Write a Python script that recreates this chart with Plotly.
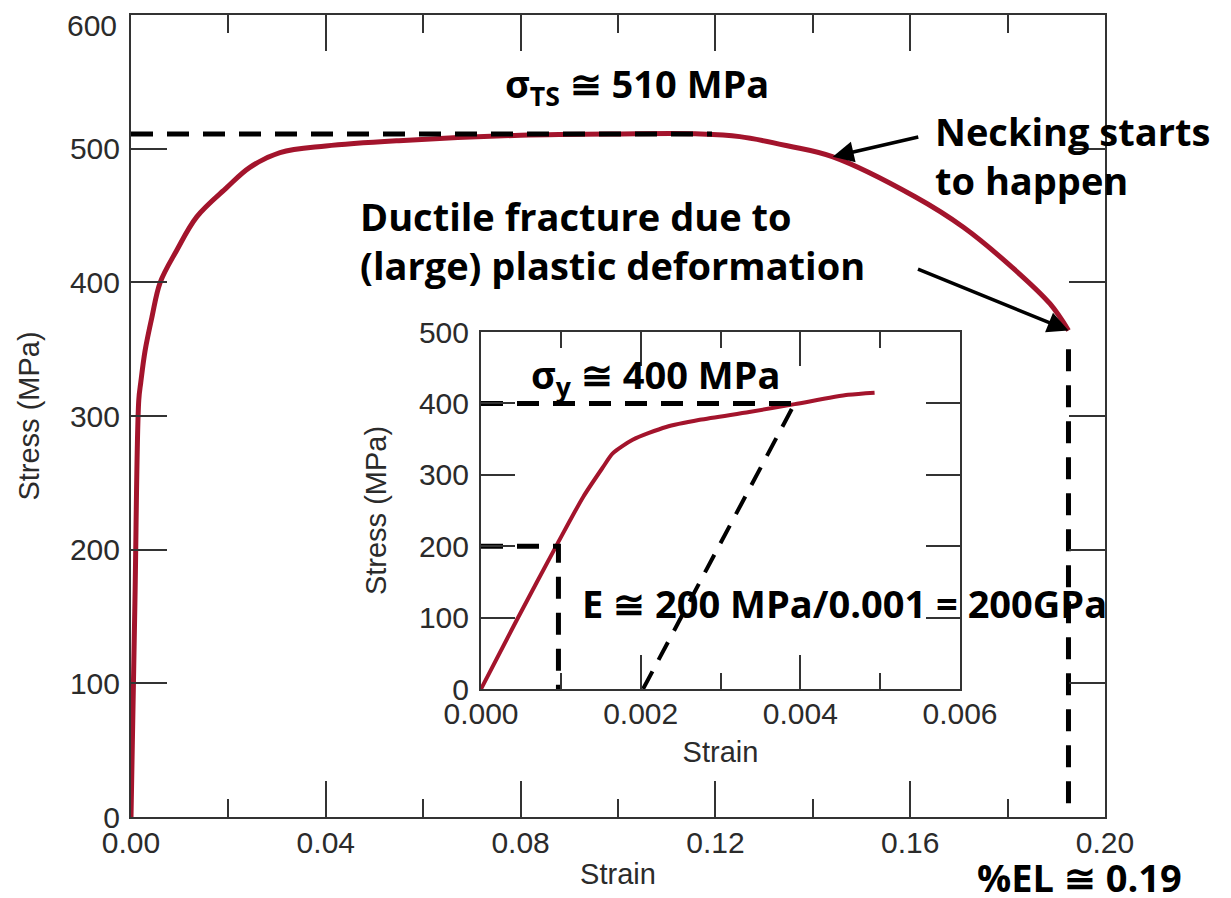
import plotly.graph_objects as go

# ---------------- data ----------------
main_strain = [0.0, 0.0008, 0.0016, 0.002, 0.0029, 0.0043, 0.006, 0.0094, 0.0135, 0.0197,
               0.0244, 0.0306, 0.04, 0.055, 0.08, 0.10, 0.117, 0.125, 0.135, 0.144,
               0.161, 0.171, 0.181, 0.1887, 0.1925]
main_stress = [0, 160, 312, 325, 349, 374, 400, 424, 449, 471,
               486, 497, 502, 506, 510, 511, 511, 509, 502, 494,
               464, 441, 411, 384, 364]

inset_strain = [0.0, 0.00045, 0.00096, 0.00128, 0.00153, 0.00165, 0.0019, 0.00232, 0.00274,
                0.00336, 0.00393, 0.0046, 0.00493]
inset_stress = [0, 97, 204, 269, 311, 330, 349, 367, 377, 388, 399, 412, 415]

tensile_strength = 511
fracture_strain = 0.1925
fracture_dash_top = 350
yield_strength = 400
e_stress = 200
e_strain = 0.00097
offset_start = 0.00203
offset_end = 0.00393

x_main_ticks = [0.00, 0.04, 0.08, 0.12, 0.16, 0.20]
y_main_ticks = [0, 100, 200, 300, 400, 500, 600]
y_main_labels = ["0", "100", "200", "300", "400", "500", ""]  # top label drawn separately
x_inset_ticks = [0.000, 0.002, 0.004, 0.006]
y_inset_ticks = [0, 100, 200, 300, 400, 500]

RED = "#a3142c"
AX = "#333333"
TICKFONT = dict(family="Liberation Sans, Arial, sans-serif", size=30, color="#2b2b2b")
TITLEFONT = dict(family="Liberation Sans, Arial, sans-serif", size=29, color="#2b2b2b")
ANNFONT = dict(family="Open Sans, sans-serif", size=38, color="black", weight="bold")

W, H = 1231, 898
OFF = 8  # page body margin offset


def xdom(a, b):
    return [(a - OFF) / W, (b - OFF) / W]


def ydom(bottom, top):
    return [(H - (bottom - OFF)) / H, (H - (top - OFF)) / H]


fig = go.Figure()

# main curve
fig.add_trace(go.Scatter(x=main_strain, y=main_stress, mode="lines",
                         line=dict(color=RED, width=5, shape="spline", smoothing=1.0),
                         xaxis="x", yaxis="y", showlegend=False, hoverinfo="skip"))
# tensile strength dashed
fig.add_trace(go.Scatter(x=[0, 0.1193], y=[tensile_strength, tensile_strength], mode="lines",
                         line=dict(color="black", width=5, dash="22px,14px"), xaxis="x", yaxis="y",
                         showlegend=False, hoverinfo="skip"))
# fracture vertical dashed
fig.add_trace(go.Scatter(x=[fracture_strain, fracture_strain], y=[fracture_dash_top, 0], mode="lines",
                         line=dict(color="black", width=5, dash="22px,14px"), xaxis="x", yaxis="y",
                         showlegend=False, hoverinfo="skip"))

# inset curve
fig.add_trace(go.Scatter(x=inset_strain, y=inset_stress, mode="lines",
                         line=dict(color=RED, width=4, shape="spline", smoothing=0.7),
                         xaxis="x2", yaxis="y2", showlegend=False, hoverinfo="skip"))
# yield dashed
fig.add_trace(go.Scatter(x=[0, offset_end], y=[yield_strength, yield_strength], mode="lines",
                         line=dict(color="black", width=5, dash="22px,14px"), xaxis="x2", yaxis="y2",
                         showlegend=False, hoverinfo="skip"))
# E construction
fig.add_trace(go.Scatter(x=[0, e_strain, e_strain], y=[e_stress, e_stress, 0], mode="lines",
                         line=dict(color="black", width=5, dash="22px,14px"), xaxis="x2", yaxis="y2",
                         showlegend=False, hoverinfo="skip"))
# offset line
fig.add_trace(go.Scatter(x=[offset_start, offset_end], y=[0, yield_strength], mode="lines",
                         line=dict(color="black", width=4, dash="20px,13px"), xaxis="x2", yaxis="y2",
                         showlegend=False, hoverinfo="skip"))

common = dict(showline=True, linecolor=AX, linewidth=2, mirror="allticks", showgrid=False,
              zeroline=False, tickfont=TICKFONT, automargin=False, tickcolor=AX, tickwidth=1.5,
              ticks="inside", ticklabeloverflow="allow")

main_x = dict(range=[0, 0.2], domain=xdom(131, 1105), tickvals=x_main_ticks, tickformat=".2f",
              ticklen=36,
              minor=dict(dtick=0.02, ticks="inside", ticklen=18, tickwidth=1.5, tickcolor=AX),
              ticklabelstandoff=-2,
              title=dict(text="Strain", font=TITLEFONT, standoff=6), anchor="y", **common)
main_y = dict(range=[0, 600], domain=ydom(817, 15), tickvals=y_main_ticks, ticktext=y_main_labels,
              ticklen=36, ticklabelstandoff=3,
              title=dict(text="Stress (MPa)", font=TITLEFONT, standoff=22), anchor="x", **common)
inset_x = dict(range=[0, 0.006], domain=xdom(481, 960), tickvals=x_inset_ticks, tickformat=".3f",
               ticklen=34,
               minor=dict(dtick=0.001, ticks="inside", ticklen=16, tickwidth=1.5, tickcolor=AX),
               ticklabelstandoff=-3,
               title=dict(text="Strain", font=TITLEFONT, standoff=13), anchor="y2", **common)
inset_y = dict(range=[0, 500], domain=ydom(689, 332), tickvals=y_inset_ticks,
               ticklen=34, ticklabelstandoff=4,
               title=dict(text="Stress (MPa)", font=TITLEFONT, standoff=24), anchor="x2", **common)

annotations = [
    # top y tick label, nudged down so it stays inside the page (as in the original)
    dict(text="600", x=(119 - OFF) / W, y=592, xref="paper", yref="y", showarrow=False,
         font=TICKFONT, xanchor="right", yanchor="middle"),
    dict(text="σ<sub>TS</sub> ≅ 510 MPa", x=0.1039, y=547, xref="x", yref="y", showarrow=False,
         font=ANNFONT, xanchor="center", yanchor="middle"),
    dict(text="Necking starts<br>to happen", x=0.1647, y=495, xref="x", yref="y", showarrow=False,
         font=ANNFONT, xanchor="left", yanchor="middle", align="left"),
    dict(text="Ductile fracture due to<br>(large) plastic deformation", x=0.0466, y=431, xref="x", yref="y",
         showarrow=False, font=ANNFONT, xanchor="left", yanchor="middle", align="left"),
    dict(text="%EL ≅ 0.19", x=(975 - OFF) / W, y=(H - (877 - OFF)) / H, xref="paper", yref="paper",
         showarrow=False, font=ANNFONT, xanchor="left", yanchor="middle"),
    dict(text="σ<sub>y</sub> ≅ 400 MPa", x=0.00218, y=437, xref="x2", yref="y2", showarrow=False,
         font=ANNFONT, xanchor="center", yanchor="middle"),
    dict(text="E ≅ 200 MPa/0.001 = 200GPa", x=0.00124, y=120, xref="x2", yref="y2", showarrow=False,
         font=ANNFONT, xanchor="left", yanchor="middle"),
    # arrows
    dict(text="", x=0.1441, y=494, xref="x", yref="y", showarrow=True, ax=87, ay=-20,
         arrowhead=2, arrowsize=1.2, arrowwidth=3.5, arrowcolor="black"),
    dict(text="", x=fracture_strain, y=364, xref="x", yref="y", showarrow=True, ax=-152, ay=-62,
         arrowhead=2, arrowsize=1.2, arrowwidth=3.5, arrowcolor="black"),
]

fig.update_layout(width=W, height=H, margin=dict(l=0, r=0, t=0, b=0, autoexpand=False),
                  paper_bgcolor="white", plot_bgcolor="white",
                  xaxis=main_x, yaxis=main_y, xaxis2=inset_x, yaxis2=inset_y,
                  annotations=annotations, showlegend=False)

fig.write_html("out.html")
